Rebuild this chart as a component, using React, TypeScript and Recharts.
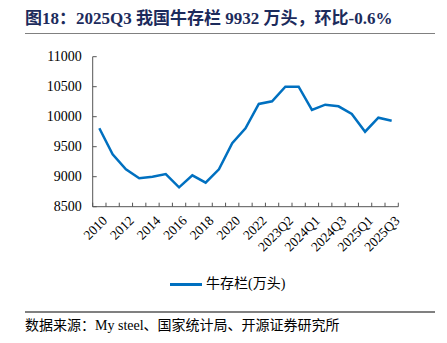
import React from 'react';
import { LineChart, Line, XAxis, YAxis } from 'recharts';

const categories = [
  '2010', '2011', '2012', '2013', '2014', '2015', '2016', '2017', '2018', '2019', '2020', '2021', '2022',
  '2023Q1', '2023Q2', '2023Q4', '2024Q1', '2024Q2', '2024Q3', '2024Q4', '2025Q1', '2025Q2', '2025Q3',
];
const cattleStock = [
  9807, 9373, 9123, 8973, 9000, 9045, 8823, 9023, 8900, 9123, 9557, 9807, 10212,
  10257, 10500, 10500, 10112, 10200, 10173, 10045, 9750, 9983, 9932,
];
const yTicks = [8500, 9000, 9500, 10000, 10500, 11000];
const seriesName = '牛存栏(万头)';
const title = '图18：2025Q3 我国牛存栏 9932 万头，环比-0.6%';
const source = '数据来源：My steel、国家统计局、开源证券研究所';

const data = categories.map((c, i) => ({ cat: c, value: cattleStock[i] }));

const W = 447;
const H = 343;
const M = { top: 56.7, right: 48.7, left: 0, bottom: 86.3 };
const Y_AXIS_W = 92.7;
const X_AXIS_H = 50;
const PLOT_W = W - M.left - M.right - Y_AXIS_W;
const BAND = PLOT_W / categories.length;
const LINE_COLOR = '#0070C0';
const SERIF = '"Liberation Serif", "Times New Roman", serif';
const CJK = '"Liberation Serif", "Noto Sans CJK SC", serif';

const XTick = (props: any) => {
  const { x, y, payload, index } = props;
  const last = index === categories.length - 1;
  const lx = x + 2;
  const ly = y + 8;
  return (
    <g>
      <line x1={x - BAND / 2} x2={x - BAND / 2} y1={y} y2={y - 4} stroke="#555" strokeWidth={1} />
      {last && <line x1={x + BAND / 2} x2={x + BAND / 2} y1={y} y2={y - 4} stroke="#555" strokeWidth={1} />}
      {index % 2 === 0 && (
        <text
          x={lx}
          y={ly}
          textAnchor="end"
          fontSize={13.5}
          fontFamily={SERIF}
          fill="#000"
          transform={`rotate(-45, ${lx}, ${ly})`}
          dominantBaseline="hanging"
        >
          {payload.value}
        </text>
      )}
    </g>
  );
};

const YTick = (props: any) => {
  const { x, y, payload } = props;
  return (
    <g>
      <line x1={x} x2={x + 4} y1={y} y2={y} stroke="#555" strokeWidth={1} />
      <text x={x - 11} y={y} textAnchor="end" dominantBaseline="central" fontSize={14} fontFamily={SERIF} fill="#000">
        {payload.value}
      </text>
    </g>
  );
};

export default function App() {
  return (
    <div style={{ position: 'absolute', left: 0, top: 0, width: W, height: H, background: '#fff' }}>
      <div
        style={{
          position: 'absolute', left: 25, top: 9, fontSize: 17, fontWeight: 'bold', color: '#1c2b5c',
          fontFamily: CJK, whiteSpace: 'nowrap', lineHeight: '20px',
        }}
      >
        {title}
      </div>
      <div style={{ position: 'absolute', left: 25, top: 32.5, width: 410, height: 1.5, background: '#808080' }} />
      <LineChart width={W} height={H} data={data} margin={M}>
        <XAxis
          dataKey="cat"
          interval={0}
          padding={{ left: BAND / 2, right: BAND / 2 }}
          tickSize={0}
          tickMargin={0}
          tickLine={false}
          height={X_AXIS_H}
          axisLine={{ stroke: '#555', strokeWidth: 1 }}
          tick={<XTick />}
        />
        <YAxis
          width={Y_AXIS_W}
          domain={[8500, 11000]}
          ticks={yTicks}
          interval={0}
          tickSize={0}
          tickMargin={0}
          tickLine={false}
          axisLine={{ stroke: '#555', strokeWidth: 1 }}
          tick={<YTick />}
        />
        <Line
          type="linear"
          dataKey="value"
          name={seriesName}
          stroke={LINE_COLOR}
          strokeWidth={2.5}
          dot={false}
          isAnimationActive={false}
        />
      </LineChart>
      <div style={{ position: 'absolute', left: 170, top: 282.5, width: 32, height: 3, background: LINE_COLOR }} />
      <div
        style={{
          position: 'absolute', left: 206, top: 275, fontSize: 14, fontFamily: CJK, color: '#000',
          whiteSpace: 'nowrap', lineHeight: '18px',
        }}
      >
        {seriesName}
      </div>
      <div style={{ position: 'absolute', left: 25, top: 311, width: 410, height: 1.5, background: '#808080' }} />
      <div
        style={{
          position: 'absolute', left: 25, top: 317, fontSize: 14, fontFamily: CJK, color: '#000',
          whiteSpace: 'nowrap', lineHeight: '18px',
        }}
      >
        {source}
      </div>
    </div>
  );
}
